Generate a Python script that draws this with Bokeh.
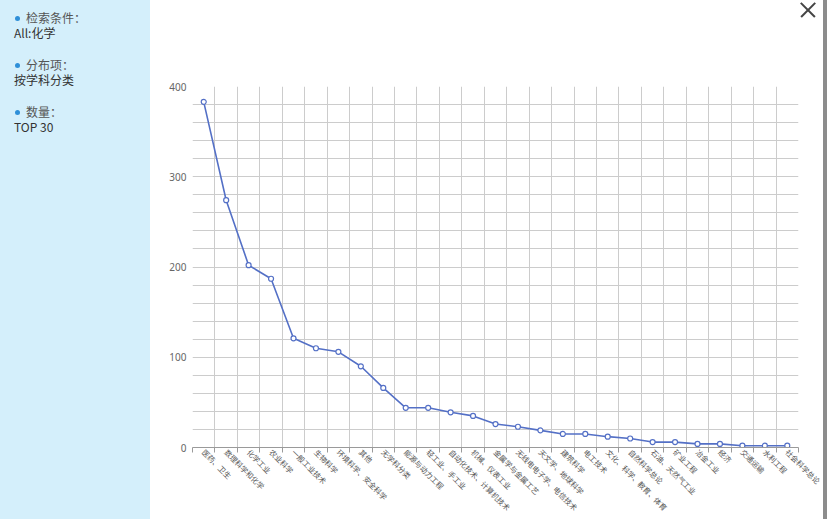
import math
from bokeh.plotting import figure
from bokeh.models import Range1d, FixedTicker, ColumnDataSource, Div
from bokeh.layouts import row, column
from bokeh.embed import file_html
from bokeh.resources import INLINE

categories = [
    "医药、卫生", "数理科学和化学", "化学工业", "农业科学", "一般工业技术",
    "生物科学", "环境科学、安全科学", "其他", "无学科分类", "能源与动力工程",
    "轻工业、手工业", "自动化技术、计算机技术", "机械、仪表工业", "金属学与金属工艺",
    "无线电电子学、电信技术", "天文学、地球科学", "建筑科学", "电工技术",
    "文化、科学、教育、体育", "自然科学总论", "石油、天然气工业", "矿业工程",
    "冶金工业", "经济", "交通运输", "水利工程", "社会科学总论",
]
counts = [383, 274, 202, 187, 121, 110, 106, 90, 66, 44, 44, 39, 35, 26, 23,
          19, 15, 15, 12, 10, 6, 6, 4, 4, 2, 2, 2]
y_ticks = [0, 100, 200, 300, 400]
y_grid_step = 20
y_max = 400

info_items = [("检索条件：", "All:化学"), ("分布项：", "按学科分类"), ("数量：", "TOP 30")]

n = len(categories)
xs = [i + 0.5 for i in range(n)]
src = ColumnDataSource(dict(x=xs, y=counts))

CJK = "Noto Sans CJK SC"

p = figure(width=673, height=489, x_range=Range1d(0, n), y_range=Range1d(0, y_max),
           output_backend="svg", toolbar_location=None,
           min_border_left=42, min_border_right=25, min_border_top=56, min_border_bottom=71)
p.outline_line_color = None
p.background_fill_color = "white"
p.border_fill_color = "white"

p.xgrid.ticker = FixedTicker(ticks=list(range(n + 1)))
p.ygrid.ticker = FixedTicker(ticks=list(range(0, y_max + 1, y_grid_step)))
p.grid.grid_line_color = "#cccccc"
p.grid.grid_line_width = 1

xa = p.xaxis[0]
xa.ticker = FixedTicker(ticks=xs, minor_ticks=list(range(n + 1)))
xa.major_label_overrides = {x: c for x, c in zip(xs, categories)}
xa.major_label_orientation = -math.pi / 4
xa.major_label_text_font_size = "7.5px"
xa.major_label_text_font = CJK
xa.major_label_text_color = "#555555"
xa.major_label_standoff = -2
xa.major_tick_out = 0
xa.major_tick_in = 0
xa.major_tick_line_color = None
xa.minor_tick_out = 5
xa.minor_tick_in = 0
xa.minor_tick_line_color = "#9a9a9a"
xa.axis_line_color = "#9a9a9a"

ya = p.yaxis[0]
ya.ticker = FixedTicker(ticks=y_ticks)
ya.axis_line_color = None
ya.major_tick_line_color = None
ya.major_tick_out = 0
ya.major_tick_in = 0
ya.minor_tick_line_color = None
ya.minor_tick_out = 0
ya.major_label_text_font_size = "10px"
ya.major_label_text_color = "#666666"
ya.major_label_text_font = "Noto Sans"
ya.major_label_standoff = 6

p.line("x", "y", source=src, line_color="#5470c6", line_width=1.6)
p.scatter("x", "y", source=src, size=5, fill_color="white", line_color="#5470c6", line_width=1.2)

bar = ('position:absolute;left:648px;top:9px;width:20px;height:1.5px;'
       'background:#444;transform:rotate({}deg);')
header = Div(text=('<div style="position:relative;width:673px;height:30px;">'
                   f'<div style="{bar.format(45)}"></div>'
                   f'<div style="{bar.format(-45)}"></div></div>'),
             width=673, height=30, margin=0,
             styles={"background-color": "white", "width": "673px", "height": "30px"})

html = ""
for head, val in info_items:
    html += ('<div style="margin:0 0 17px 0;line-height:15px;">'
             '<span style="display:inline-block;width:5px;height:5px;border-radius:50%;'
             'background:#2e8fd8;margin:0 6px 3px 1px;vertical-align:middle;"></span>'
             f'<span style="color:#555;">{head}</span><br>'
             f'<span style="color:#333;">{val}</span></div>')
left = Div(text=f'<div style="padding:10px 0 0 14px;font-family:\'Noto Sans CJK SC\';font-size:12px;">{html}</div>',
           width=150, height=519, margin=0,
           styles={"background-color": "#d4effb", "width": "150px", "height": "519px"})
strip = Div(text="", width=4, height=519, margin=0,
            styles={"background-color": "#8c8c8c", "width": "4px", "height": "519px"})

layout = row(left, column(header, p, spacing=0), strip, spacing=0)
open("out.html", "w").write(file_html(layout, INLINE))
